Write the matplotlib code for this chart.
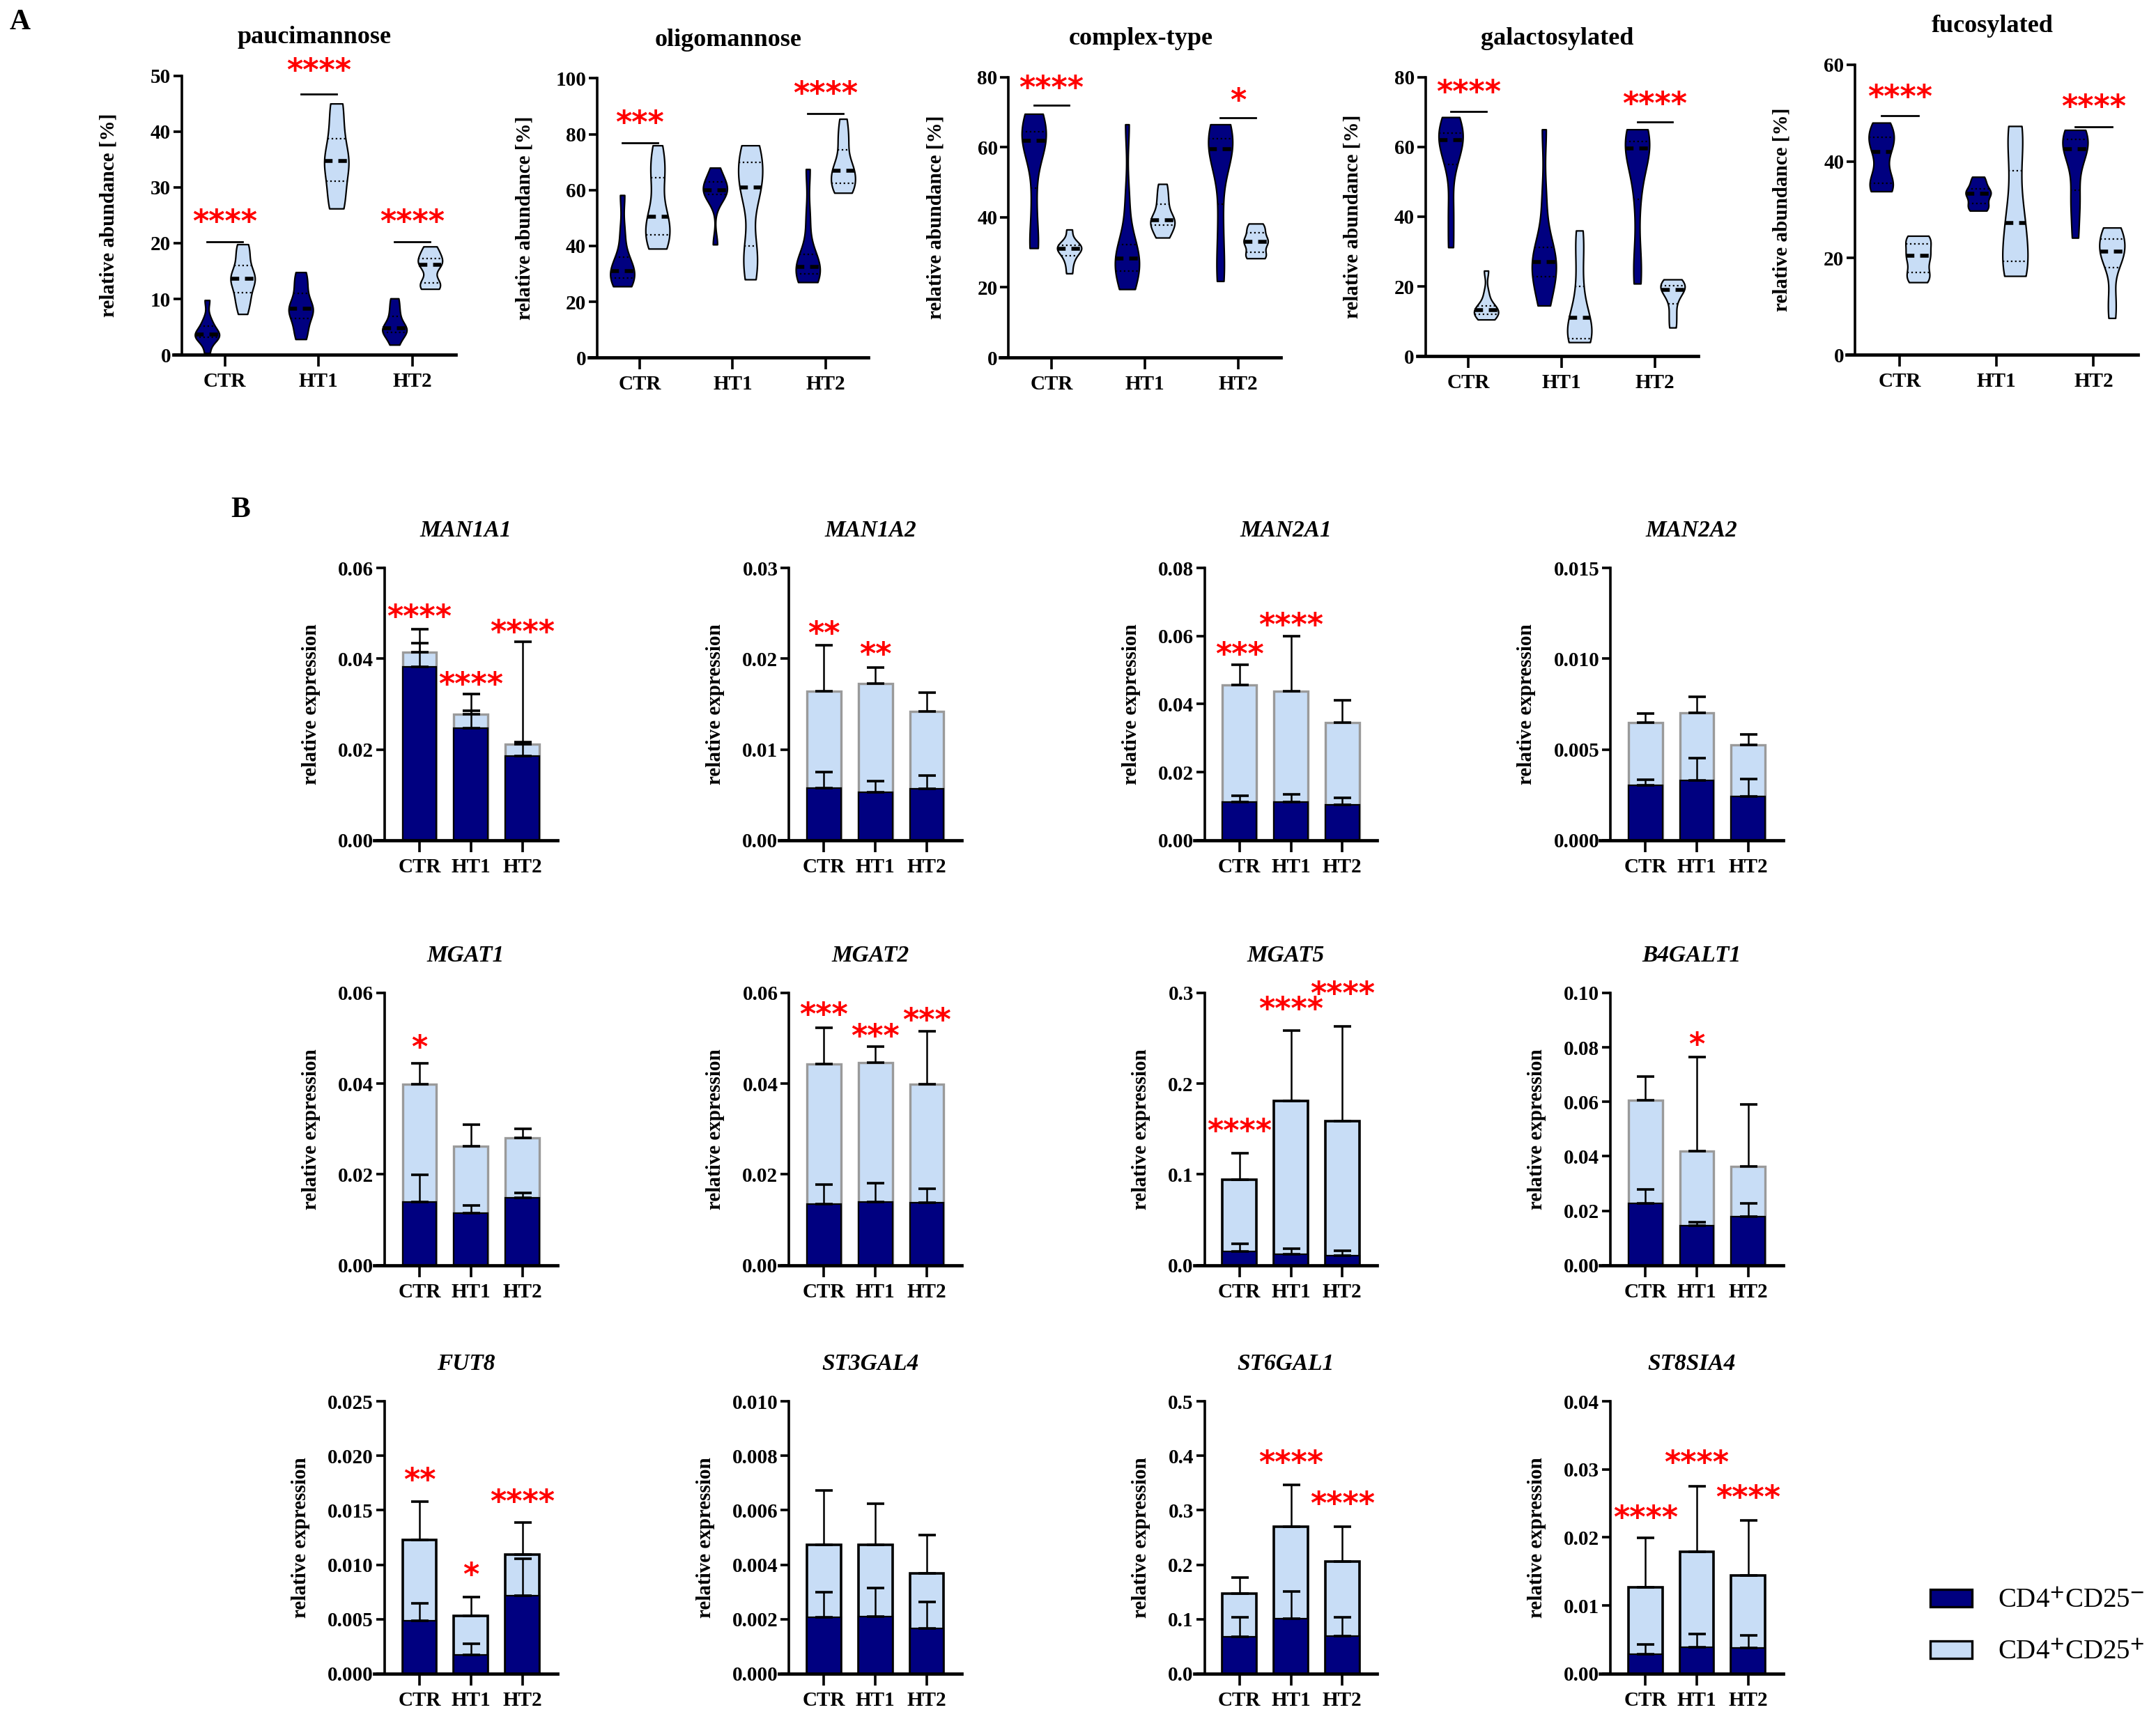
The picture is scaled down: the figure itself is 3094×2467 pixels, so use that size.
import matplotlib
matplotlib.use("Agg")

import matplotlib.pyplot as plt
from matplotlib import cbook, mlab
from matplotlib.patches import Patch
from matplotlib.ticker import FormatStrFormatter
import numpy as np

plt.rcParams['font.family'] = ['Liberation Serif', 'DejaVu Serif']
plt.rcParams['font.weight'] = 'bold'
plt.rcParams['mathtext.fontset'] = 'stix'

groups = ["CTR", "HT1", "HT2"]

# ---------------- panel A: glycan classes (violin samples per group) ----------------
glycan_titles = ["paucimannose", "oligomannose", "complex-type", "galactosylated", "fucosylated"]
glycan_ytop = [50, 100, 80, 80, 60]
glycan_ystep = [10, 20, 20, 20, 20]

pauci_neg = [[0.3, 2.8, 3.2, 3.4, 3.6, 3.9, 5.2, 6.3, 9.8],
             [2.8, 4.5, 6.5, 8.0, 8.3, 8.6, 11.0, 13.0, 14.8],
             [1.8, 3.5, 4.2, 4.6, 5.0, 6.5, 8.2, 10.1]]
pauci_pos = [[7.3, 9.5, 10.5, 12.8, 13.4, 13.8, 14.5, 16.5, 18.5, 19.8],
             [26.2, 30.0, 34.5, 35.0, 40.0, 45.0],
             [11.8, 12.5, 13.0, 16.0, 16.3, 17.0, 18.2, 19.4]]
oligo_neg = [[25.5, 27.0, 28.5, 30.0, 31.0, 33.0, 36.0, 45.0, 58.2],
             [40.5, 56.0, 58.5, 59.5, 60.0, 61.0, 63.0, 65.0, 68.0],
             [27.0, 28.5, 30.0, 31.5, 32.5, 34.0, 37.0, 50.0, 67.5]]
oligo_pos = [[39.0, 41.0, 43.0, 47.0, 50.0, 51.0, 60.0, 66.0, 70.0, 76.0],
             [28.0, 35.0, 40.0, 58.0, 61.0, 64.0, 70.0, 73.0, 76.0],
             [59.0, 60.0, 62.0, 64.0, 66.5, 67.5, 70.0, 76.0, 80.0, 85.5]]
complex_neg = [[31.2, 33.0, 45.0, 58.0, 61.0, 62.5, 63.0, 65.0, 68.0, 69.5],
               [19.5, 22.0, 24.0, 26.5, 28.0, 28.5, 30.0, 33.0, 45.0, 66.5],
               [21.8, 28.0, 40.0, 55.0, 59.0, 60.0, 61.0, 63.0, 65.0, 66.5]]
complex_pos = [[24.0, 27.0, 29.0, 30.5, 31.0, 31.3, 32.0, 33.0, 36.5],
               [34.2, 36.0, 38.5, 39.0, 39.5, 43.0, 46.0, 49.5],
               [28.3, 28.8, 30.0, 32.5, 33.0, 33.5, 35.5, 37.0, 38.2]]
galacto_neg = [[31.2, 42.0, 55.0, 59.0, 62.0, 63.0, 64.0, 66.0, 68.5],
               [14.5, 18.0, 22.0, 25.0, 26.5, 27.5, 29.0, 32.0, 45.0, 65.0],
               [20.8, 28.0, 45.0, 56.0, 59.5, 60.5, 61.5, 63.0, 65.0]]
galacto_pos = [[10.5, 11.2, 12.0, 12.8, 13.2, 13.5, 14.5, 18.0, 24.5],
               [4.0, 4.3, 5.0, 8.0, 11.0, 12.0, 20.0, 29.0, 36.0],
               [8.2, 12.0, 16.0, 18.5, 19.5, 20.0, 21.0, 22.0]]
fuco_neg = [[33.8, 34.5, 35.5, 38.0, 42.0, 43.5, 45.0, 46.5, 48.0],
            [29.8, 30.5, 31.5, 33.0, 33.5, 34.0, 35.5, 36.8],
            [24.2, 30.0, 34.0, 40.0, 42.5, 43.5, 44.5, 45.5, 46.5]]
fuco_pos = [[15.0, 16.0, 17.0, 19.0, 20.5, 21.0, 23.0, 24.0, 24.6],
            [16.3, 17.0, 19.3, 23.0, 27.2, 30.0, 38.0, 45.0, 47.3],
            [7.6, 12.0, 18.0, 20.5, 21.3, 22.0, 24.0, 25.5, 26.3]]

glycan_neg = [pauci_neg, oligo_neg, complex_neg, galacto_neg, fuco_neg]
glycan_pos = [pauci_pos, oligo_pos, complex_pos, galacto_pos, fuco_pos]

# significance: label, bracket height, label height per group
glycan_stars = [["****", "****", "****"], ["***", "", "****"], ["****", "", "*"],
                ["****", "", "****"], ["****", "", "****"]]
glycan_bracket_y = [[20.3, 46.7, 20.3], [76.8, 0, 87.4], [72.0, 0, 68.4],
                    [70.2, 0, 67.1], [49.4, 0, 47.2]]
glycan_star_y = [[23.7, 50.7, 23.7], [83.8, 0, 94.3], [76.7, 0, 73.1],
                 [75.4, 0, 72.1], [53.1, 0, 51.1]]

# ---------------- panel B: gene expression (mean, SD) ----------------
genes = ["MAN1A1", "MAN1A2", "MAN2A1", "MAN2A2",
         "MGAT1", "MGAT2", "MGAT5", "B4GALT1",
         "FUT8", "ST3GAL4", "ST6GAL1", "ST8SIA4"]
gene_ytop = [0.06, 0.03, 0.08, 0.015, 0.06, 0.06, 0.3, 0.10, 0.025, 0.010, 0.5, 0.04]
gene_ystep = [0.02, 0.01, 0.02, 0.005, 0.02, 0.02, 0.1, 0.02, 0.005, 0.002, 0.1, 0.01]
gene_yfmt = ["%.2f", "%.2f", "%.2f", "%.3f", "%.2f", "%.2f", "%.1f", "%.2f",
             "%.3f", "%.3f", "%.1f", "%.2f"]

neg_mean = [[0.0382, 0.0247, 0.0186], [0.00575, 0.0053, 0.00567], [0.0112, 0.0112, 0.0104],
            [0.00303, 0.00329, 0.00241], [0.0139, 0.0114, 0.0148], [0.0134, 0.0139, 0.0138],
            [0.0153, 0.0123, 0.0103], [0.0226, 0.0146, 0.0178], [0.00488, 0.00175, 0.00717],
            [0.00208, 0.0021, 0.00166], [0.0674, 0.101, 0.0687], [0.00286, 0.00387, 0.00377]]
neg_sd = [[0.0052, 0.0039, 0.0030], [0.00175, 0.00124, 0.00149], [0.0018, 0.0023, 0.0021],
          [0.00032, 0.00123, 0.00096], [0.0060, 0.0017, 0.0012], [0.0043, 0.0041, 0.0030],
          [0.0079, 0.0056, 0.0059], [0.0052, 0.0011, 0.0050], [0.00157, 0.00098, 0.00335],
          [0.00092, 0.00105, 0.00097], [0.0361, 0.050, 0.0348], [0.00146, 0.00195, 0.00181]]
pos_mean = [[0.0415, 0.0277, 0.0212], [0.0164, 0.0173, 0.0142], [0.0457, 0.0438, 0.0345],
            [0.0065, 0.00702, 0.00527], [0.0398, 0.0262, 0.0280], [0.0443, 0.0447, 0.0398],
            [0.0943, 0.1813, 0.1587], [0.0607, 0.0419, 0.0363], [0.01225, 0.00527, 0.01094],
            [0.00474, 0.00474, 0.00368], [0.1465, 0.2696, 0.206], [0.01273, 0.0179, 0.01437]]
pos_sd = [[0.0050, 0.0045, 0.0225], [0.0051, 0.0017, 0.0021], [0.0058, 0.0161, 0.0066],
          [0.0005, 0.00088, 0.00057], [0.0047, 0.0048, 0.0021], [0.0080, 0.0035, 0.0118],
          [0.0294, 0.0773, 0.1046], [0.0085, 0.0345, 0.0227], [0.00355, 0.00173, 0.00291],
          [0.00198, 0.00151, 0.0014], [0.0295, 0.0774, 0.064], [0.00722, 0.0096, 0.00809]]

gene_stars = [["****", "****", "****"], ["**", "**", ""], ["***", "****", ""], ["", "", ""],
              ["*", "", ""], ["***", "***", "***"], ["****", "****", "****"], ["", "*", ""],
              ["**", "*", "****"], ["", "", ""], ["", "****", "****"], ["****", "****", "****"]]
gene_star_y = [[0.0491, 0.0341, 0.0457], [0.0227, 0.0204, 0], [0.0543, 0.0630, 0], [0, 0, 0],
               [0.0478, 0, 0], [0.0550, 0.0502, 0.0538], [0.147, 0.2815, 0.298], [0, 0.0807, 0],
               [0.0177, 0.0090, 0.0157], [0, 0, 0], [0, 0.386, 0.31], [0.0228, 0.0308, 0.0257]]
black_edge_genes = ["MGAT5", "FUT8", "ST3GAL4", "ST6GAL1", "ST8SIA4"]

legend_labels = [r"CD4$^{+}$CD25$^{-}$", r"CD4$^{+}$CD25$^{+}$"]

DARK = "#000080"
LIGHT = "#c8ddf6"
STAR_RED = "#ff0000"

# layout is measured in a 1567 x 1250 reference grid
W, H = 1567.0, 1250.0


def box(left, top, width, height):
    return [left / W, 1 - (top + height) / H, width / W, height / H]


def style_axes(ax, xmin, spine_x, xmax, top, step, fmt):
    ax.set_xlim(xmin, xmax)
    ax.set_ylim(0, top)
    ax.spines[["top", "right"]].set_visible(False)
    ax.spines["left"].set_position(("data", spine_x))
    ax.spines["left"].set_linewidth(1.3)
    ax.spines["bottom"].set_linewidth(1.7)
    ax.set_yticks(np.linspace(0, top, int(round(top / step)) + 1))
    ax.yaxis.set_major_formatter(FormatStrFormatter(fmt))
    ax.set_xticks(range(len(groups)))
    ax.set_xticklabels(groups)
    ax.tick_params(axis="y", length=4.2, width=1.3, labelsize=10.5, pad=1.5)
    ax.tick_params(axis="x", length=6, width=1.3, labelsize=10.5, pad=3)


def stars(ax, x, y, label):
    ax.text(x, y, label, color=STAR_RED, fontsize=16, ha="center", va="center",
            family="DejaVu Sans", fontweight="bold", clip_on=False)


def kde(X, coords):
    return mlab.GaussianKDE(X, 0.45).evaluate(coords)


VW = 0.26
OFF = 0.19


def draw_violins(ax, samples, positions, color):
    vstats = cbook.violin_stats(samples, kde, points=200)
    parts = ax.violin(vstats, positions=positions, widths=VW, showextrema=False)
    for body in parts["bodies"]:
        body.set_facecolor(color)
        body.set_edgecolor("black")
        body.set_linewidth(0.8)
        body.set_alpha(1)
    for st, p, d in zip(vstats, positions, samples):
        scale = 0.5 * VW / np.max(st["vals"])
        for q, ls, lw in [(50, (0, (2.2, 1.5)), 2.0), (25, ":", 0.8), (75, ":", 0.8)]:
            y = np.percentile(d, q)
            hw = np.interp(y, st["coords"], st["vals"]) * scale
            ax.plot([p - hw, p + hw], [y, y], color="black", ls=ls, lw=lw)


fig = plt.figure(figsize=(15.47, 12.335), dpi=200)

# ---------------- panel A ----------------
a_boxes = [(126, 55, 205, 203), (428, 57, 203, 203), (727, 56, 204, 204),
           (1030, 56, 204, 203), (1342, 47, 212, 211)]
x = np.arange(len(groups))
for i, title in enumerate(glycan_titles):
    l, t, w, h = a_boxes[i]
    ax = fig.add_axes(box(l, t, w, h))
    style_axes(ax, -0.55, -0.46, 2.46, glycan_ytop[i], glycan_ystep[i], "%d")
    draw_violins(ax, glycan_neg[i], x - OFF, DARK)
    draw_violins(ax, glycan_pos[i], x + OFF, LIGHT)
    for g in range(len(groups)):
        if glycan_stars[i][g]:
            ax.plot([g - OFF, g + OFF], [glycan_bracket_y[i][g]] * 2, color="black",
                    lw=1.0, clip_on=False)
            stars(ax, g, glycan_star_y[i][g], glycan_stars[i][g])
    ax.set_ylabel("relative abundance [%]", fontsize=10.5, fontweight="bold")
    ax.yaxis.set_label_coords(-40 / w, 0.5)
    fig.text((l + w / 2) / W, 1 - (t - 28) / H, title, ha="center", va="center",
             fontsize=13, fontweight="bold")

# ---------------- panel B ----------------
col_left = [272, 566, 868, 1163]
row_top = [413, 722, 1019]
BW = 0.66
for i, gene in enumerate(genes):
    r, c = divmod(i, 4)
    l, t = col_left[c], row_top[r]
    ax = fig.add_axes(box(l, t, 133, 198))
    style_axes(ax, -0.88, -0.68, 2.68, gene_ytop[i], gene_ystep[i], gene_yfmt[i])
    if gene in black_edge_genes:
        edge, elw = "black", 1.3
    else:
        edge, elw = "#9a9a9a", 1.2
    ax.bar(x, pos_mean[i], width=BW, color=LIGHT, edgecolor=edge, linewidth=elw, zorder=1)
    ax.bar(x, neg_mean[i], width=BW, color=DARK, edgecolor="black", linewidth=0.8, zorder=2)
    zeros = np.zeros(len(groups))
    for mean, sd in [(pos_mean[i], pos_sd[i]), (neg_mean[i], neg_sd[i])]:
        ax.errorbar(x, mean, yerr=[zeros, sd], fmt="none", ecolor="black",
                    elinewidth=0.9, capsize=4.5, capthick=1.3, zorder=3)
    for g in range(len(groups)):
        if gene_stars[i][g]:
            stars(ax, g, gene_star_y[i][g], gene_stars[i][g])
    ax.set_ylabel("relative expression", fontsize=10.5, fontweight="bold", labelpad=9)
    fig.text((l + 133 / 2) / W, 1 - (t - 27) / H, gene, ha="center", va="center",
             fontsize=12, fontweight="bold", style="italic")

fig.text(14.5 / W, 1 - 16 / H, "A", ha="center", va="center", fontsize=15, fontweight="bold")
fig.text(175 / W, 1 - 371 / H, "B", ha="center", va="center", fontsize=15, fontweight="bold")

handles = [Patch(facecolor=DARK, edgecolor="black", linewidth=1.2),
           Patch(facecolor=LIGHT, edgecolor="black", linewidth=1.2)]
fig.legend(handles=handles, labels=legend_labels, loc="center left",
           bbox_to_anchor=(1403 / W, 1 - 1183 / H), frameon=False,
           prop={"family": "Liberation Serif", "weight": "normal", "size": 14},
           handlelength=1.55, handleheight=0.6, labelspacing=0.95,
           handletextpad=0.95, borderaxespad=0, borderpad=0)

fig.savefig("out.png", dpi=200)
